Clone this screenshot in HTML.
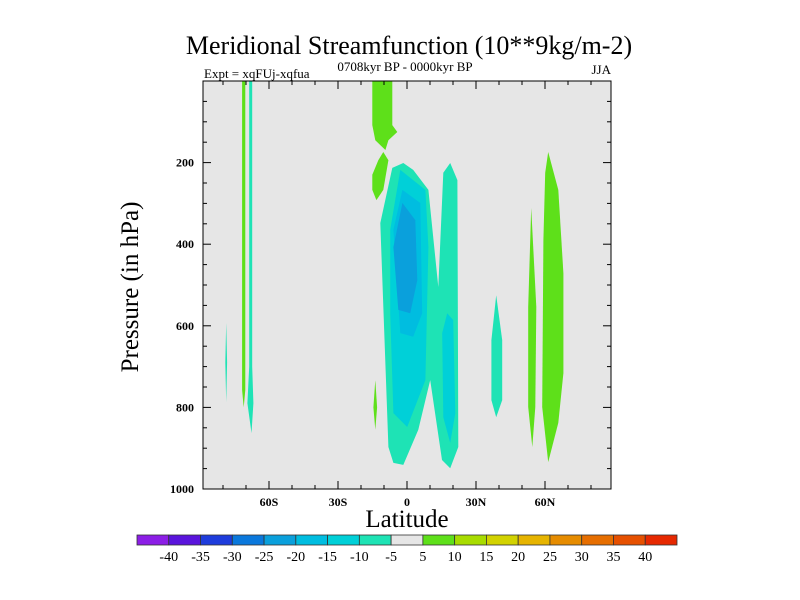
<!DOCTYPE html>
<html><head><meta charset="utf-8"><style>
body{margin:0;background:#fff;}
svg{display:block;font-family:"Liberation Serif",serif;}
</style></head><body>
<svg id="c" width="800" height="600" xmlns="http://www.w3.org/2000/svg">
<text x="409" y="54" font-size="26" text-anchor="middle">Meridional Streamfunction (10**9kg/m-2)</text>
<text x="405" y="71" font-size="13" text-anchor="middle">0708kyr BP - 0000kyr BP</text>
<text x="204" y="78" font-size="13">Expt = xqFUj-xqfua</text>
<text x="611" y="74" font-size="13" text-anchor="end">JJA</text>
<rect x="203" y="81" width="408" height="408" fill="#e6e6e6"/>
<g id="marks"></g>
<rect x="203" y="81" width="408" height="408" fill="none" stroke="#000" stroke-width="1"/>
<g id="axes"></g>
<text x="407" y="527" font-size="25" text-anchor="middle">Latitude</text>
<text transform="translate(138,287) rotate(-90)" font-size="25" text-anchor="middle">Pressure (in hPa)</text>
<g id="cbar"></g>
</svg>
<script>
const latTicks=[-60,-30,0,30,60];
const latLabels=["60S","30S","0","30N","60N"];
const pTicks=[200,400,600,800,1000];
const levelLabels=["-40","-35","-30","-25","-20","-15","-10","-5","5","10","15","20","25","30","35","40"];
const levelColors=["#8c1ee6","#5a14dc","#1e3cdc","#0a78dc","#0aa0dc","#00bde0","#00d0d8","#1ee3b5","#e6e6e6","#5ee01a","#a8dc00","#d2d200","#e6b400","#e68c00","#e66e00","#e65000","#e62800"];
// contour regions: level index and outline in [lat,p]
const regionLevels=[7,6,5,4,6, 9,9,9, 7,9,9, 9,7,7];
const regionShapes=[
 [[-1.6,201],[2.7,218],[9.3,267],[13.6,505],[15.8,225],[18.8,201],[21.9,243],[22.3,897],[18.8,949],[15.2,929],[10.1,733],[4.9,855],[-1.6,941],[-5.9,936],[-8.1,897],[-11.6,348],[-6.4,213]],
 [[-2.9,218],[8,267],[9.3,407],[8,733],[0.1,848],[-5.9,814],[-7.3,569],[-7.3,365]],
 [[-2,267],[5.8,299],[6.6,569],[2.7,627],[-2.9,618],[-5.9,365]],
 [[-2,299],[3.6,341],[4.5,488],[1.4,569],[-3.8,561],[-5.9,407]],
 [[17.5,569],[20.1,586],[21,814],[18.8,887],[15.8,824],[15.3,618]],
 [[-15.1,0],[-6.4,0],[-6.4,108],[-4.2,125],[-8.1,145],[-9.4,169],[-13.8,145],[-15.1,108]],
 [[-10.3,174],[-12.5,194],[-15.1,230],[-15.1,267],[-13.3,292],[-10.3,267],[-8.1,194]],
 [[-13.8,733],[-13,800],[-13.8,855],[-14.6,800]],
 [[38.8,525],[41.4,635],[41.4,782],[38.8,824],[36.7,782],[36.7,635]],
 [[54,311],[56.2,554],[55.8,799],[54.5,897],[52.7,799],[52.7,554]],
 [[61.4,174],[65.8,267],[68,471],[68,716],[65.8,838],[61.4,934],[58.8,799],[59.3,390],[60.1,225]],
 [[-71.7,0],[-70.3,0],[-70.3,757],[-71,800],[-71.7,757]],
 [[-68.6,0],[-67.3,0],[-67.3,700],[-66.8,790],[-67.6,863],[-69.4,790],[-68.6,700]],
 [[-78.6,593],[-78.2,690],[-78.6,787],[-79,690]]
];
const NS="http://www.w3.org/2000/svg";
const X0=203,X1=611,Y0=81,Y1=489,LATMIN=-88.7,LATMAX=88.7;
const xs=l=>X0+(l-LATMIN)/(LATMAX-LATMIN)*(X1-X0);
const ys=p=>Y0+p/1000*(Y1-Y0);
function mk(tag,attrs,parent){const e=document.createElementNS(NS,tag);for(const k in attrs)e.setAttribute(k,attrs[k]);parent.appendChild(e);return e;}
const marks=document.getElementById('marks');
regionShapes.forEach((sh,i)=>{
 const e=mk('polygon',{points:sh.map(q=>xs(q[0]).toFixed(1)+','+ys(q[1]).toFixed(1)).join(' '),fill:levelColors[regionLevels[i]]},marks);
 
 
});
const ax=document.getElementById('axes');
for(let l=-80;l<=80;l+=10){
 const major=l%30===0;
 mk('line',{x1:xs(l),x2:xs(l),y1:Y1,y2:Y1-(major?8:4),stroke:'#000'},ax);
 mk('line',{x1:xs(l),x2:xs(l),y1:Y0,y2:Y0+(major?8:4),stroke:'#000'},ax);
}
latTicks.forEach((l,i)=>{
 const t=mk('text',{x:xs(l),y:506,'font-size':12,'font-weight':'bold','text-anchor':'middle'},ax);
 t.textContent=latLabels[i];
 
 
});
for(let p=50;p<1000;p+=50){
 const major=p%200===0;
 mk('line',{x1:X0,x2:X0+(major?8:4),y1:ys(p),y2:ys(p),stroke:'#000'},ax);
 mk('line',{x1:X1,x2:X1-(major?8:4),y1:ys(p),y2:ys(p),stroke:'#000'},ax);
}
pTicks.forEach(p=>{
 const t=mk('text',{x:194,y:ys(p)+4,'font-size':12,'font-weight':'bold','text-anchor':'end'},ax);
 t.textContent=String(p);
 
 
});
const cb=document.getElementById('cbar');
const CX0=137,CX1=677,CY=535,CH=10,bw=(CX1-CX0)/levelColors.length;
levelColors.forEach((c,i)=>{
 const r=mk('rect',{x:CX0+i*bw,y:CY,width:bw,height:CH,fill:c,stroke:'#333','stroke-width':0.8},cb);
 
 
});
levelLabels.forEach((s,i)=>{
 const t=mk('text',{x:CX0+(i+1)*bw,y:561,'font-size':14,'text-anchor':'middle'},cb);
 t.textContent=s;
 
 
});
</script>
</body></html>
